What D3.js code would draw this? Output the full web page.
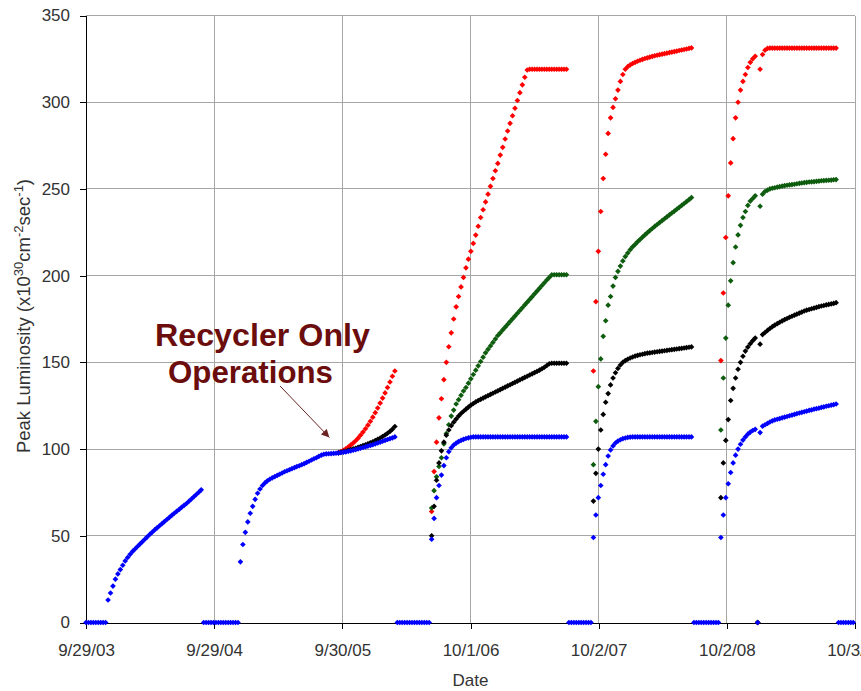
<!DOCTYPE html>
<html>
<head>
<meta charset="utf-8">
<script src="https://cdn.jsdelivr.net/npm/d3@7"></script>
<style>
body { margin: 0; background: #fff; }
text { font-family: Arial, "Liberation Sans", sans-serif; }
</style>
</head>
<body>
<div id="chart"></div>
<script>
// axis ticks
const tickDates = ["2003-09-29", "2004-09-29", "2005-09-30", "2006-10-01", "2007-10-02", "2008-10-02", "2009-10-03"];
const yTicks = [0, 50, 100, 150, 200, 250, 300, 350];

// weekly peak luminosity readings, one value per week from the start date (null = no point)
const blueStart = "2003-09-29";
const blueWeekly = [
	0,0,0,0,0,0,0,0,0,
	13,17,21,25,28,30.5,33,35.5,37.5,39.3,41,42.4,43.8,45.2,46.6,48,49.4,50.8,52.1,53.4,
	54.6,55.8,57,58.2,59.4,60.6,61.8,63,64.1,65.2,66.4,67.5,68.6,69.9,71.2,72.5,73.8,75.1,76.5,
	0,0,0,0,0,0,0,0,0,0,0,0,0,0,0,
	35,45,52,58,63,67,71,74.5,77,79,80.5,81.7,82.6,83.4,84.1,84.8,85.5,86.2,86.9,87.5,
	88.1,88.7,89.3,89.9,90.4,91,91.6,92.3,93,93.7,94.4,95,95.8,96.5,97,97.2,97.3,97.4,97.5,97.6,
	97.8,98,98.2,98.4,98.7,99,99.3,99.7,100.1,100.5,100.9,101.3,101.7,102.1,102.5,103,103.5,104,104.5,105,
	105.5,106,106.5,107,
	0,0,0,0,0,0,0,0,0,0,0,0,0,0,
	48,60,72,79,85,90.5,95,98.5,100.7,102.3,103.4,104.3,105,105.6,106.1,106.5,106.8,
	107,107,107,107,107,107,107,107,107,107,107,107,107,107,107,107,107,107,107,107,
	107,107,107,107,107,107,107,107,107,107,107,107,107,107,107,107,107,107,107,
	0,0,0,0,0,0,0,0,0,0,
	49,62,72,79,85.5,91,96,99.5,101.8,103.5,104.6,105.4,106,106.4,106.7,106.9,
	107,107,107,107,107,107,107,107,107,107,107,107,107,107,107,107,107,107,107,107,107,107,107,107,107,
	0,0,0,0,0,0,0,0,0,0,0,
	49,62,72,80,86.5,92,96.5,100,102.8,105.2,107,108.6,109.8,110.7,111.4,0,109.5,113.2,114,114.8,
	115.6,116.3,116.8,117.2,117.6,118,118.4,118.8,119.2,119.6,120,120.4,120.8,121.2,121.5,121.9,122.3,122.6,123,123.3,
	123.6,124,124.3,124.7,125,125.3,125.6,126,
	0,0,0,0,0,0,0
];

const redStart = "2005-09-19";
const redWeekly = [
	98,98.5,99.3,100.2,101.2,102.3,103.5,104.8,106.3,108,109.8,111.7,113.8,116,118.4,121,123.7,126.5,129.4,132.4,
	135.5,138.7,142,145,
	null,null,null,null,null,null,null,null,null,null,null,null,null,null,
	64,87,104,118,129,140,150,159,167,175,182,188,193.5,199,204.5,209.5,214,218.6,223.4,228.5,
	233.5,238,242.5,247,251.5,256,260.5,264.7,269.5,274,278.8,283.4,287.8,292.2,296.5,301,305.5,310,314.4,318.6,
	319,319,319,319,319,319,319,319,319,319,319,319,319,319,319,319,
	null,null,null,null,null,null,null,null,null,null,
	145,185,214,237,256,270,282,291,297,302,307,312,316,319,320.5,321.5,322.3,323,323.6,324.2,
	324.7,325.2,325.6,326,326.4,326.8,327.1,327.4,327.7,328,328.3,328.6,328.9,329.2,329.5,329.8,330.1,330.4,330.7,331,
	331.3,
	null,null,null,null,null,null,null,null,null,null,null,
	151,190,222,246,265,279,291,300,307,312,316,320,323,325,326.5,0,319,327.5,330,331,
	331.2,331.2,331.2,331.2,331.2,331.2,331.2,331.2,331.2,331.2,331.2,331.2,331.2,331.2,
	331.2,331.2,331.2,331.2,331.2,331.2,331.2,331.2,331.2,331.2,331.2,331.2,331.2,331.2
];

const greenStart = "2006-06-12";
const greenWeekly = [
	66,76,84,90,95,103,109,114,119,122.5,126,128.5,131,133.5,135.5,138,140.5,143,145.5,148,
	150.5,153,155.5,157.5,159.5,161.5,163.5,165.5,
	167,168.7,170.3,171.9,173.5,175.1,176.7,178.3,179.9,181.5,183.1,184.7,186.3,187.9,189.5,191.1,192.7,194.3,195.9,197.5,
	199,200.4,200.5,200.5,200.5,200.5,200.5,200.5,
	null,null,null,null,null,null,null,null,null,null,
	91,116,136,152,165,174,183,188,194,199,202.5,205.5,208.5,211,213,215,216.6,218,219.5,220.8,
	222.2,223.5,224.8,226,227.2,228.4,229.5,230.6,231.7,232.8,233.9,235,236.1,237.2,238.3,239.4,240.5,241.6,242.7,243.8,
	245,
	null,null,null,null,null,null,null,null,null,null,null,
	111,141,164,183,197,207.5,216.5,223.5,229,233.5,237,240.5,243,244.5,246,0,240,247,248.5,249.3,
	250,250.4,250.7,251,251.3,251.6,251.9,252.1,252.3,252.5,252.7,253,253.2,253.4,253.6,253.8,254,254.1,254.2,254.4,
	254.5,254.7,254.8,254.9,255,255.1,255.3,255.4
];

const blackStart = "2005-09-19";
const blackWeekly = [
	97.8,98.1,98.5,98.9,99.3,99.7,100.1,100.5,101,101.5,102,102.5,103,103.6,104.2,104.9,105.6,106.4,107.2,108.1,
	109.1,110.2,111.5,113,
	null,null,null,null,null,null,null,null,null,null,null,null,null,null,
	50,67,82,92,99,104,108,111,113.5,115.5,117.3,119,120.5,121.8,123,124.2,125.3,126.3,127.2,128,
	128.7,129.4,130.1,130.8,131.5,132.2,132.9,133.6,134.3,135,135.7,136.4,137.1,137.8,138.5,139.2,139.9,140.6,141.3,142,
	142.7,143.4,144.1,144.8,145.5,146.3,147.2,148.2,149.2,149.5,149.5,149.5,149.5,149.5,149.5,149.5,
	null,null,null,null,null,null,null,null,null,null,
	70,86,100,111,120,127,132,137,141,144,146.5,148.5,150,151,151.8,152.5,153.1,153.6,154,154.4,
	154.7,155,155.3,155.5,155.7,155.9,156.1,156.3,156.5,156.7,156.9,157.1,157.3,157.5,157.7,157.9,158.1,158.3,158.5,158.7,
	158.9,
	null,null,null,null,null,null,null,null,null,null,null,
	72,92,105,117,128,135,141,146,150,153.5,156.5,158.8,160.8,162.5,164,0,160.5,
	166,167.2,168.4,169.5,170.6,171.5,172.3,173.1,173.9,174.6,175.3,176,176.6,177.2,177.8,178.4,179,179.6,180.1,180.5,
	180.9,181.3,181.7,182.1,182.5,182.8,183.1,183.4,183.7,184,184.4
];

const params = {
	selector: "#chart",
	width: 861,
	height: 691,
	left: 86,
	right: 855,
	top: 15.5,
	bottom: 622.5
};

const parseDate = d3.utcParse("%Y-%m-%d");

const toPoints = (start, weekly, group) => {
	const d0 = parseDate(start);
	return weekly
		.map((v, i) => ({ date: d3.utcDay.offset(d0, 7 * i), value: v, group: group }))
		.filter(d => d.value !== null);
}

// drawn in this order so blue ends up on top
const series = [
	{ group: "red", color: "#ff0000", points: toPoints(redStart, redWeekly, "red") },
	{ group: "green", color: "#0e5c0e", points: toPoints(greenStart, greenWeekly, "green") },
	{ group: "black", color: "#000000", points: toPoints(blackStart, blackWeekly, "black") },
	{ group: "blue", color: "#0000ff", points: toPoints(blueStart, blueWeekly, "blue") }
];

const svg = d3.select(params.selector)
	.append("svg")
	.attr("width", params.width)
	.attr("height", params.height);

svg.append("rect").attr("width", params.width).attr("height", params.height).attr("fill", "#fff");

const xTicks = tickDates.map(parseDate);
const xScale = d3.scaleUtc()
	.domain([xTicks[0], xTicks[xTicks.length - 1]])
	.range([params.left, params.right]);
const yScale = d3.scaleLinear()
	.domain([0, 350])
	.range([params.bottom, params.top]);

// gridlines
const grid = svg.append("g").attr("stroke", "#a6a6a6").attr("stroke-width", 1).attr("shape-rendering", "crispEdges");
grid.selectAll(".hgrid")
	.data(yTicks.slice(1))
	.join("line")
	.attr("x1", params.left).attr("x2", params.right)
	.attr("y1", d => yScale(d)).attr("y2", d => yScale(d));
grid.selectAll(".vgrid")
	.data(xTicks.slice(1))
	.join("line")
	.attr("x1", d => xScale(d)).attr("x2", d => xScale(d))
	.attr("y1", params.top).attr("y2", params.bottom);

// axes
const fmt = d3.utcFormat("%-m/%-d/%y");
const xAxis = svg.append("g")
	.attr("transform", `translate(0, ${params.bottom})`)
	.call(d3.axisBottom(xScale).tickValues(xTicks).tickFormat(fmt).tickSize(6).tickPadding(15).tickSizeOuter(0));
const yAxis = svg.append("g")
	.attr("transform", `translate(${params.left}, 0)`)
	.call(d3.axisLeft(yScale).tickValues(yTicks).tickSize(6).tickPadding(10).tickSizeOuter(0));

[xAxis, yAxis].forEach(ax => {
	ax.select(".domain").attr("stroke", "#000").attr("shape-rendering", "crispEdges");
	ax.selectAll(".tick line").attr("stroke", "#000").attr("shape-rendering", "crispEdges");
	ax.selectAll(".tick text")
		.attr("fill", "#333")
		.attr("font-size", "17px")
		.attr("font-family", "Arial, 'Liberation Sans', sans-serif");
});

// markers
const diamond = d3.symbol().type(d3.symbolSquare).size(16)();
const marks = svg.append("g");
series.forEach(s => {
	marks.append("g")
		.attr("class", "series")
		.attr("fill", s.color)
		.selectAll("path")
		.data(s.points)
		.join("path")
		.attr("d", diamond)
		.attr("transform", d => `translate(${xScale(d.date)}, ${yScale(d.value)}) rotate(45)`);
});

// axis titles
svg.append("text")
	.attr("x", (params.left + params.right) / 2)
	.attr("y", 686)
	.attr("text-anchor", "middle")
	.attr("font-size", "17px")
	.attr("fill", "#333")
	.text("Date");

const yTitle = svg.append("text")
	.attr("transform", `translate(30, ${(params.top + params.bottom) / 2 - 3}) rotate(-90)`)
	.attr("text-anchor", "middle")
	.attr("font-size", "18.5px")
	.attr("fill", "#333");
yTitle.append("tspan").text("Peak Luminosity (x10");
yTitle.append("tspan").attr("dy", -7).attr("font-size", "13px").text("30");
yTitle.append("tspan").attr("dy", 7).text("cm");
yTitle.append("tspan").attr("dy", -7).attr("font-size", "13px").text("-2");
yTitle.append("tspan").attr("dy", 7).text("sec");
yTitle.append("tspan").attr("dy", -7).attr("font-size", "13px").text("-1");
yTitle.append("tspan").attr("dy", 7).text(")");

// annotation
const noteColor = "#6b0d0d";
const arrowFrom = { date: parseDate("2005-04-05"), value: 136.4 };
const arrowTo = { date: parseDate("2005-08-24"), value: 106.7 };

svg.append("defs").append("marker")
	.attr("id", "head")
	.attr("viewBox", "0 0 10 10")
	.attr("refX", 10).attr("refY", 5)
	.attr("markerWidth", 10).attr("markerHeight", 8)
	.attr("markerUnits", "userSpaceOnUse")
	.attr("orient", "auto")
	.append("path")
	.attr("d", "M0,0L10,5L0,10Z")
	.attr("fill", "#6b2323");

svg.append("line")
	.attr("x1", xScale(arrowFrom.date)).attr("y1", yScale(arrowFrom.value))
	.attr("x2", xScale(arrowTo.date)).attr("y2", yScale(arrowTo.value))
	.attr("stroke", "#6b2323")
	.attr("stroke-width", 1)
	.attr("marker-end", "url(#head)");

const note = svg.append("g")
	.attr("fill", noteColor)
	.attr("font-family", "'Comic Sans MS', Lato, sans-serif")
	.attr("font-weight", "bold")
	.attr("font-size", "31px");
note.append("text").attr("x", 155).attr("y", 346)
	.attr("textLength", 215).attr("lengthAdjust", "spacingAndGlyphs")
	.text("Recycler Only");
note.append("text").attr("x", 168).attr("y", 383)
	.attr("textLength", 165).attr("lengthAdjust", "spacingAndGlyphs")
	.text("Operations");
</script>
</body>
</html>
